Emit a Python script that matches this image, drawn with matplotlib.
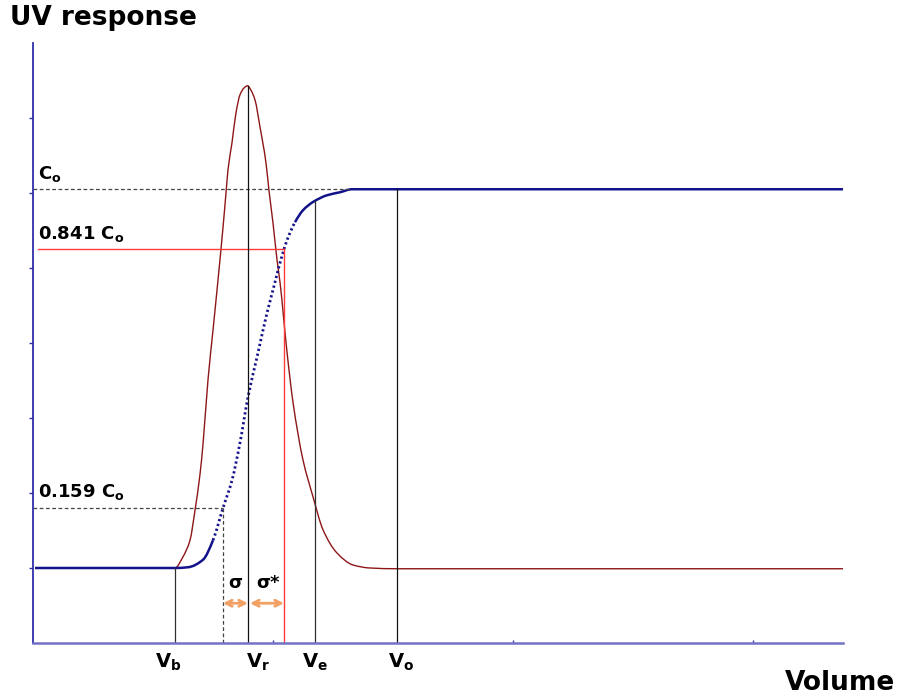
import numpy as np
import matplotlib.pyplot as plt
from matplotlib.path import Path
from matplotlib.patches import PathPatch

plt.rcParams['mathtext.fontset'] = 'custom'
plt.rcParams['mathtext.rm'] = 'DejaVu Sans:bold'
plt.rcParams['mathtext.it'] = 'DejaVu Sans:bold'
plt.rcParams['mathtext.bf'] = 'DejaVu Sans:bold'

# breakthrough (frontal) curve, UV signal vs volume
front_x = [0.2, 14.2, 15.5, 17.0, 18.0, 19.0, 19.9, 20.7, 21.5, 22.4, 23.4, 24.2,
           24.5, 25.4, 26.2, 27.0, 28.0, 29.4, 30.7, 31.9, 81.0]
front_y = [1.0, 1.0, 1.01, 1.11, 1.37, 1.80, 2.17, 2.67, 3.28, 3.81, 4.40, 4.81,
           4.97, 5.37, 5.61, 5.77, 5.88, 5.97, 6.01, 6.05, 6.05]

# derivative (elution peak)
peak_x = [0.2, 14.2, 15.0, 15.7, 16.2, 16.7, 17.0, 17.5, 18.0, 18.5, 19.0,
          19.3, 19.5, 19.9, 20.3, 20.7, 21.1, 21.45, 21.8, 22.2, 22.7, 23.3, 23.6,
          24.0, 24.4, 24.7, 25.4, 26.0, 27.0, 28.0, 29.0, 30.4, 32.0, 33.7, 36.4, 81.0]
peak_y = [1.0, 1.0, 1.15, 1.37, 1.77, 2.25, 2.65, 3.51, 4.17, 4.84, 5.54,
          6.0, 6.31, 6.67, 7.07, 7.31, 7.40, 7.43, 7.37, 7.24, 6.88, 6.40, 6.03,
          5.60, 5.11, 4.81, 3.88, 3.21, 2.44, 1.95, 1.51, 1.20, 1.04, 1.0, 0.99, 0.99]

baseline = 1.0
c0 = 6.05
peak_top = 7.43
frac_low = 0.159
frac_high = 0.841

v_b = 14.2
v_low = 19.0
v_r = 21.5
v_high = 25.1
v_e = 28.2
v_o = 36.4
v_labels = [(v_b, -0.7, r'V$_{\rm b}$'), (v_r, 1.0, r'V$_{\rm r}$'),
            (v_e, 0.0, r'V$_{\rm e}$'), (v_o, 0.4, r'V$_{\rm o}$')]

lvl_low = baseline + frac_low * (c0 - baseline)
lvl_high = baseline + frac_high * (c0 - baseline)


def slopes(x, y):
    # monotone (Fritsch-Carlson) tangents so the smooth line never overshoots
    h = np.diff(x)
    d = np.diff(y) / h
    m = np.zeros_like(y)
    m[0], m[-1] = d[0], d[-1]
    for k in range(1, len(x) - 1):
        if d[k - 1] * d[k] <= 0:
            m[k] = 0.0
        else:
            w1 = 2 * h[k] + h[k - 1]
            w2 = h[k] + 2 * h[k - 1]
            m[k] = (w1 + w2) / (w1 / d[k - 1] + w2 / d[k])
    return m


def smooth_path(x, y, i0=0, i1=None):
    x = np.asarray(x, float)
    y = np.asarray(y, float)
    m = slopes(x, y)
    if i1 is None:
        i1 = len(x) - 1
    verts = [(x[i0], y[i0])]
    codes = [Path.MOVETO]
    for k in range(i0, i1):
        h = x[k + 1] - x[k]
        verts += [(x[k] + h / 3, y[k] + m[k] * h / 3),
                  (x[k + 1] - h / 3, y[k + 1] - m[k + 1] * h / 3),
                  (x[k + 1], y[k + 1])]
        codes += [Path.CURVE4] * 3
    return Path(verts, codes)


fig = plt.figure(figsize=(9, 6.98), dpi=100)
ax = fig.add_axes([33 / 900, 55 / 698, 810 / 900, 600 / 698])
ax.set_xlim(0, 81)
ax.set_ylim(0, 8)

navy = '#12128a'
dark_red = '#8e1616'
grey = '#303030'

# guide lines
ax.plot([0, 31.9], [c0, c0], color='#444444', lw=0.9, ls=(0, (3, 2)))
ax.plot([0, v_low], [lvl_low, lvl_low], color='#444444', lw=0.9, ls=(0, (3, 2)))
ax.plot([v_low, v_low], [0, lvl_low], color='#444444', lw=0.9, ls=(0, (3, 2)))
ax.plot([0.5, v_high], [lvl_high, lvl_high], color='#ff3b3b', lw=1.0)
ax.plot([v_high, v_high], [0, lvl_high], color='#ff3b3b', lw=1.0)

ax.plot([v_b, v_b], [0, baseline], color=grey, lw=0.9)
ax.plot([v_r, v_r], [0, peak_top], color='#111111', lw=0.9)
ax.plot([v_e, v_e], [0, np.interp(v_e, front_x, front_y)], color=grey, lw=0.9)
ax.plot([v_o, v_o], [0, c0], color='#111111', lw=0.9)

# elution peak
ax.add_patch(PathPatch(smooth_path(peak_x, peak_y), fill=False,
                       edgecolor=dark_red, lw=1.0))

# breakthrough curve: solid where it is flat, dotted on the steep front
i_a = front_x.index(18.0)
i_b = front_x.index(26.2)
ax.add_patch(PathPatch(smooth_path(front_x, front_y, 0, i_a), fill=False,
                       edgecolor=navy, lw=1.8))
ax.add_patch(PathPatch(smooth_path(front_x, front_y, i_a, i_b), fill=False,
                       edgecolor=navy, lw=2.0, ls=(0, (0.8, 1.0))))
ax.add_patch(PathPatch(smooth_path(front_x, front_y, i_b), fill=False,
                       edgecolor=navy, lw=1.8))

# level labels
for lvl, txt in [(c0, r'C$_{\rm o}$'), (lvl_high, r'0.841 C$_{\rm o}$'),
                 (lvl_low, r'0.159 C$_{\rm o}$')]:
    ax.annotate(txt, xy=(0.5, lvl), xytext=(0, 4), textcoords='offset points',
                fontsize=13, fontweight='bold', ha='left', va='bottom')

# sigma arrows
arrow_y = 0.53
orange = '#f2a063'
for x0, x1 in [(v_low, v_r), (v_r + 0.2, v_high)]:
    ax.annotate('', xy=(x0, arrow_y), xytext=(x1, arrow_y),
                arrowprops=dict(arrowstyle='<->', color=orange, lw=2,
                                mutation_scale=11, shrinkA=0, shrinkB=0))
ax.text((v_low + v_r) / 2, 0.8, 'σ', fontsize=13, fontweight='bold',
        ha='center', va='center')
ax.text((v_r + v_high) / 2 + 0.2, 0.8, 'σ*', fontsize=13, fontweight='bold',
        ha='center', va='center')

# volume markers under the axis
for xv, dx, txt in v_labels:
    ax.annotate(txt, xy=(xv + dx, 0), xytext=(0, -6), textcoords='offset points',
                fontsize=14, fontweight='bold', ha='center', va='top')

# axes styling
for side in ['top', 'right']:
    ax.spines[side].set_visible(False)
ax.spines['left'].set_color('#3030a8')
ax.spines['left'].set_linewidth(1.3)
ax.spines['bottom'].set_color('#7272c6')
ax.spines['bottom'].set_linewidth(1.8)
ax.set_yticks(range(1, 8))
ax.set_yticklabels([])
ax.tick_params(axis='y', direction='out', length=3, width=1, color='#3030a8')
ax.set_xticks([24, 48, 72])
ax.set_xticklabels([])
ax.tick_params(axis='x', direction='in', length=2, width=1, color='#3030a8')

fig.text(10 / 900, 1 - 5 / 698, 'UV response', fontsize=19, fontweight='bold',
         ha='left', va='top')
fig.text(895 / 900, 2 / 698, 'Volume', fontsize=19, fontweight='bold',
         ha='right', va='bottom')

fig.savefig('out.png', dpi=100)
